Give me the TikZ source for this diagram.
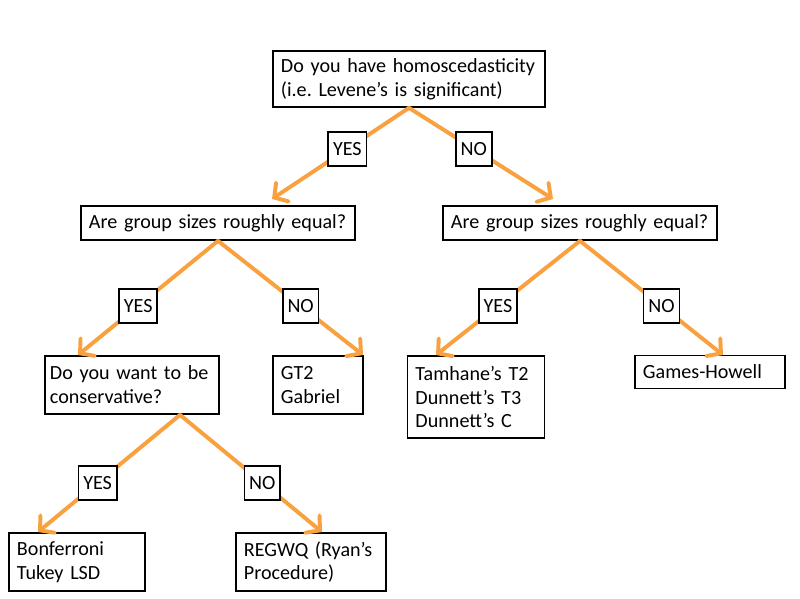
\documentclass[tikz,border=0pt]{standalone}
\usepackage{fontspec}
\setmainfont{Carlito}
\usepackage{tikz}
\usetikzlibrary{arrows.meta,positioning}
\definecolor{CarrO}{RGB}{249,161,63}
\frenchspacing
\tikzset{
qbox/.style={draw, line width=1.2pt, align=left, inner xsep=0.2cm, inner ysep=0pt, font=\fontsize{14.3}{17}\selectfont},
lbl/.style={draw=black, fill=white, text=black, line width=1.2pt, minimum height=0.85cm, inner xsep=0.12cm, font=\fontsize{14.3}{17}\selectfont},
arr/.style={draw=CarrO, line width=2.8pt, line cap=round, -{Straight Barb[length=7pt, width=16pt, line cap=round]}},
}

\begin{document}
\begin{tikzpicture}[x=0.025cm, y=-0.025cm]
\useasboundingbox (0,0) rectangle (800,598);

%% questions
\node[qbox, text width=6.4cm, minimum height=1.4cm] (qTop) at (409,79)
  {Do you have homoscedasticity\\(i.e. Levene’s is significant)};
\node[qbox, text width=6.45cm, minimum height=0.85cm] (qL) at (218,223)
  {Are group sizes roughly equal?};
\node[qbox, text width=6.45cm, minimum height=0.85cm] (qR) at (580,223)
  {Are group sizes roughly equal?};
\node[qbox, text width=4.1cm, inner xsep=0.125cm, minimum height=1.45cm] (qC) at (132,385)
  {Do you want to be\\conservative?};

%% answers
\node[qbox, text width=1.85cm, minimum height=1.45cm] (rGT) at (318,385)
  {GT2\\Gabriel};
\node[qbox, text width=3.025cm, minimum height=2.05cm] (rTam) at (476,397)
  {Tamhane’s T2\\Dunnett’s T3\\Dunnett’s C};
\node[qbox, text width=3.35cm, minimum height=0.825cm] (rGH) at (710,372)
  {Games-Howell};
\node[qbox, text width=3.0cm, minimum height=1.45cm] (rBon) at (77,562)
  {Bonferroni\\Tukey LSD};
\node[qbox, text width=3.35cm, minimum height=1.45cm] (rREG) at (311,562)
  {REGWQ (Ryan’s\\Procedure)};

% --------------------------------------------------------

%% arrow ends
\coordinate (tTopY) at (272,199);
\coordinate (tTopN) at (553,199);
\coordinate (tLY) at (78,355);
\coordinate (tLN) at (363,355);
\coordinate (tRY) at (436,355);
\coordinate (tRN) at (723,355);
\coordinate (tCY) at (38,532);
\coordinate (tCN) at (322,532);
\coordinate (qCb) at ([xshift=1.2cm]qC.south);

%% branches
\draw[arr] (qTop.south) -- node[lbl, pos=0.45] (yTop) {YES} (tTopY);
\draw[arr] (qTop.south) -- node[lbl, pos=0.45] (nTop) {NO} (tTopN);

\draw[arr] (qL.south) -- node[lbl, pos=0.57] (yL) {YES} (tLY);
\draw[arr] (qL.south) -- node[lbl, pos=0.57] (nL) {NO} (tLN);

\draw[arr] (qR.south) -- node[lbl, pos=0.57] (yR) {YES} (tRY);
\draw[arr] (qR.south) -- node[lbl, pos=0.57] (nR) {NO} (tRN);

\draw[arr] (qCb) -- node[lbl, pos=0.58] (yC) {YES} (tCY);
\draw[arr] (qCb) -- node[lbl, pos=0.58] (nC) {NO} (tCN);
\end{tikzpicture}
\end{document}
